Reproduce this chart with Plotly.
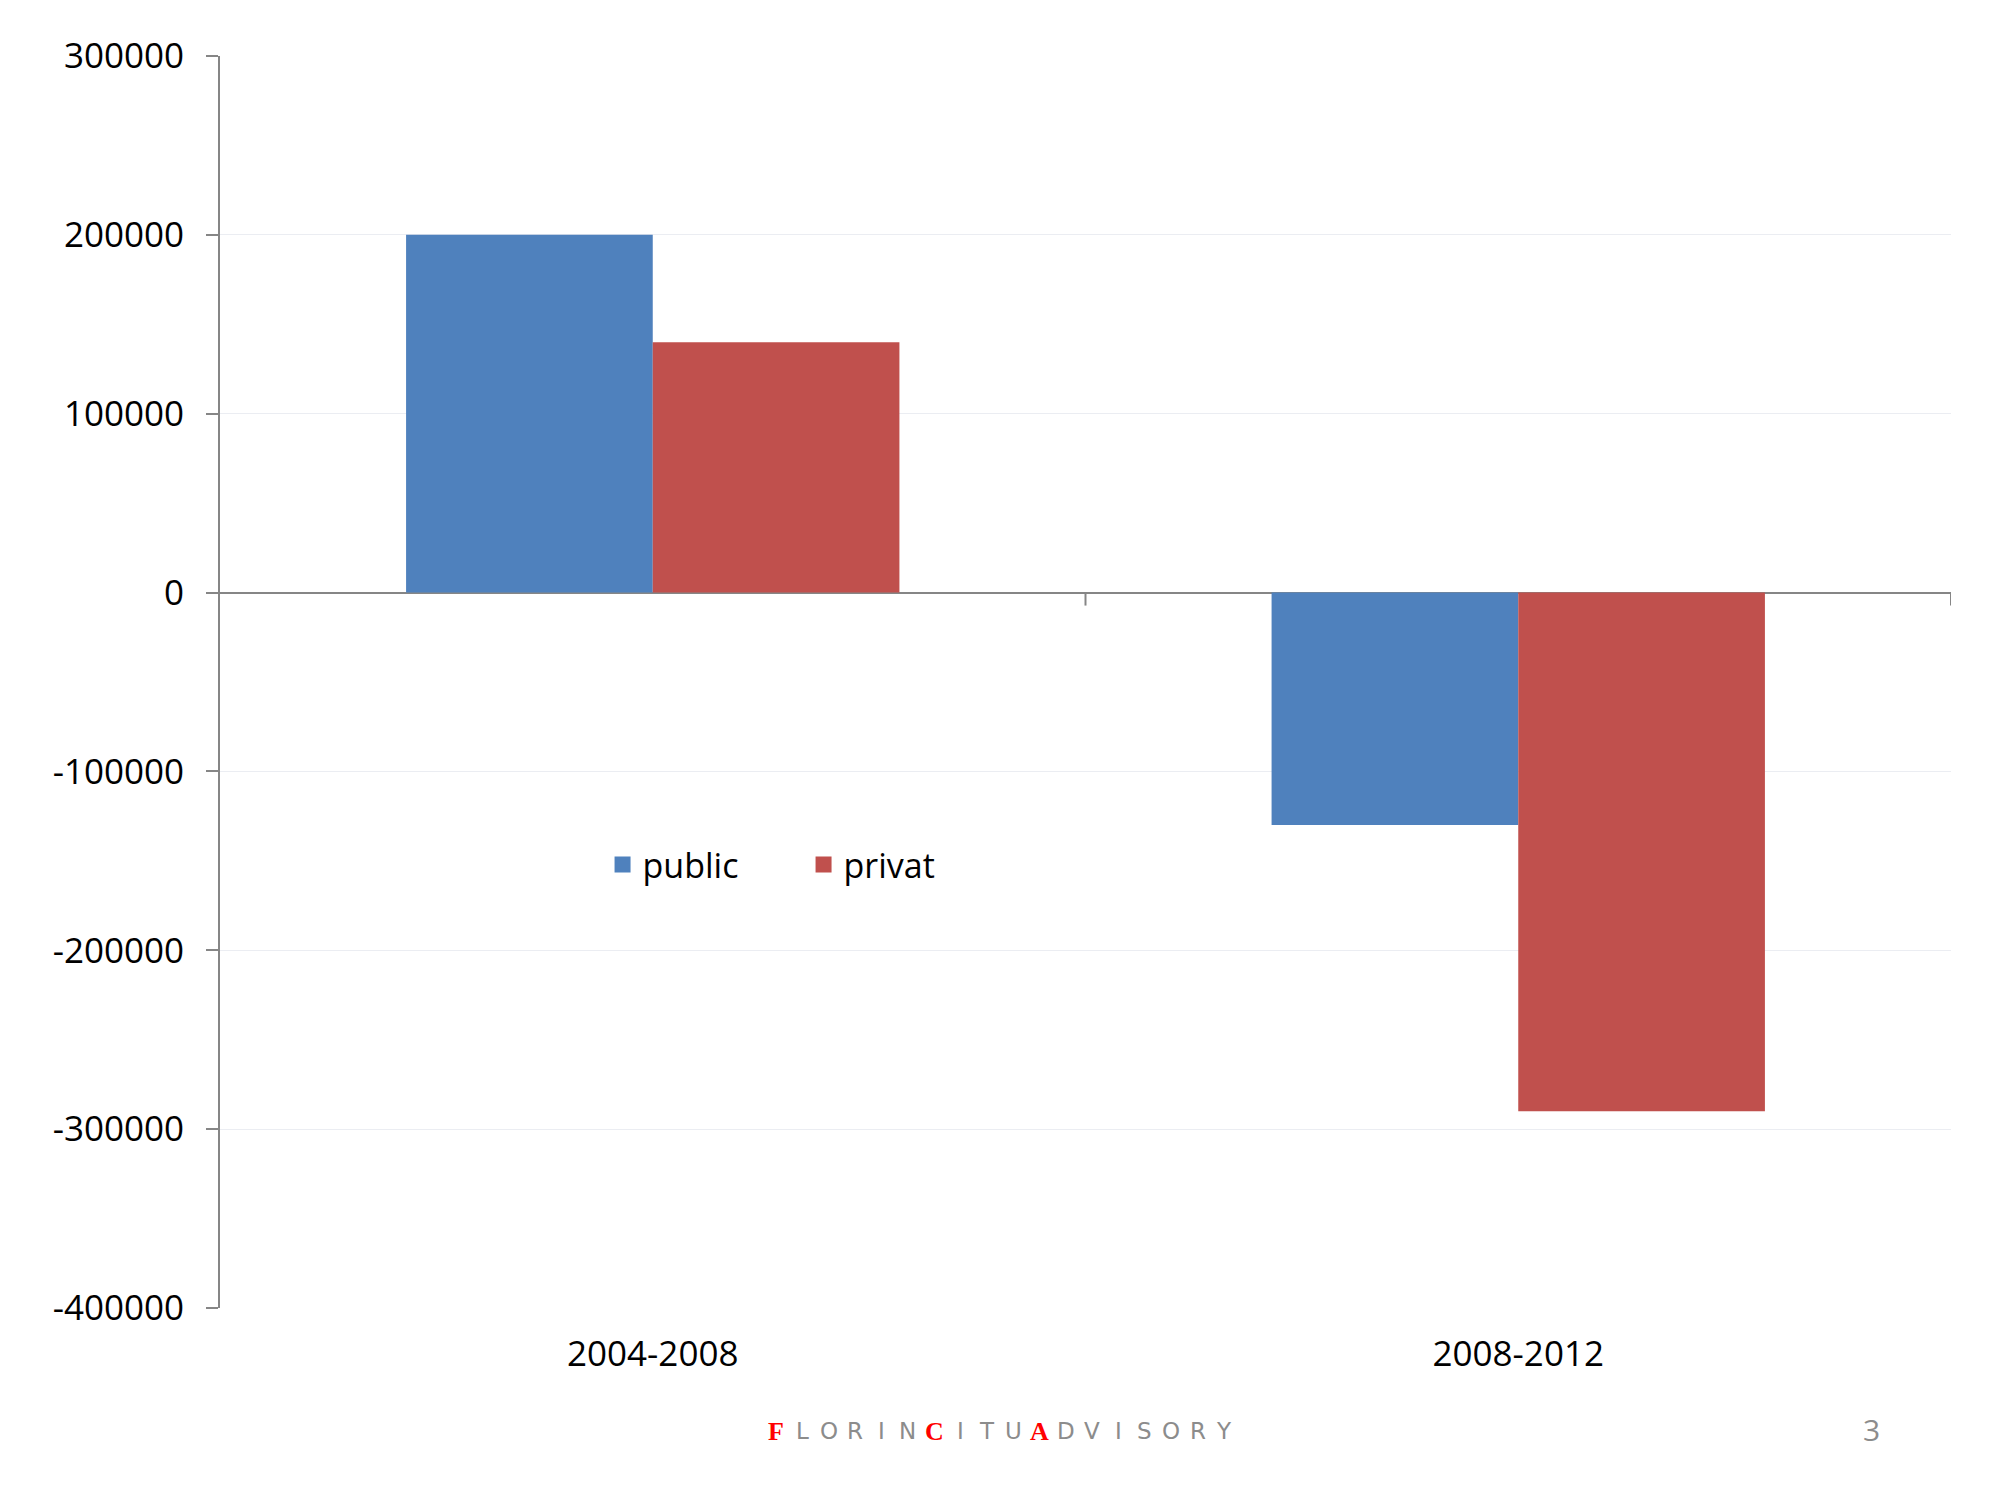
import plotly.graph_objects as go

categories = ["2004-2008", "2008-2012"]
series_names = ["public", "privat"]
public_values = [200000, -130000]
privat_values = [140000, -290000]
y_tick_values = [300000, 200000, 100000, 0, -100000, -200000, -300000, -400000]
y_tick_labels = ["300000", "200000", "100000", "0", "-100000", "-200000", "-300000", "-400000"]
footer_letters = list("FLORINCITUADVISORY")
footer_red = [0, 6, 10]
page_number = "3"

BLUE = "#4F81BD"
RED = "#C0504D"
AXIS = "#868686"
GRID = "#EBEDF2"
FONT = "Open Sans"

# plot area in figure pixels
L, R, T, B = 212, 1943, 48, 1300
W, H = R - L, B - T

fig = go.Figure()
for name, vals, col in [(series_names[0], public_values, BLUE),
                        (series_names[1], privat_values, RED)]:
    fig.add_trace(go.Bar(name=name, x=categories, y=vals, legendgroup=name,
                         showlegend=False,
                         marker=dict(color=col, line=dict(width=0))))
# legend entries (square swatches)
for name, col in [(series_names[0], BLUE), (series_names[1], RED)]:
    fig.add_trace(go.Scatter(name=name, x=[None], y=[None], mode="markers",
                             legendgroup=name,
                             marker=dict(symbol="square", size=23, color=col,
                                         line=dict(width=0))))

# x-axis tick marks sitting on the zero line (between and after categories)
for xv in [0.5, 1.5]:
    fig.add_shape(type="line", xref="x", yref="y", x0=xv, x1=xv,
                  ysizemode="pixel", yanchor=0, y0=0, y1=-13,
                  line=dict(color=AXIS, width=2))

# footer
n = len(footer_letters)
x_start, x_end = 768, 1216
for i, ch in enumerate(footer_letters):
    xp = x_start + (x_end - x_start) * i / (n - 1)
    red = i in footer_red
    fig.add_annotation(
        text=ch, xref="paper", yref="paper",
        x=(xp - L) / W, y=(B - 1423) / H,
        xanchor="center", yanchor="middle", showarrow=False,
        font=dict(family="Liberation Serif" if red else "DejaVu Sans",
                  size=26 if red else 23,
                  color="#FF0000" if red else "#8C8C8C",
                  weight="bold" if red else "normal"),
    )
fig.add_annotation(text=page_number, xref="paper", yref="paper",
                   x=(1863 - L) / W, y=(B - 1421) / H,
                   xanchor="center", yanchor="middle", showarrow=False,
                   font=dict(family=FONT, size=30, color="#8C8C8C"))

fig.update_layout(
    width=2000, height=1500,
    margin=dict(l=L, r=2000 - R, t=T, b=1500 - B),
    paper_bgcolor="white", plot_bgcolor="white",
    barmode="group", bargap=0.43, bargroupgap=0,
    font=dict(family=FONT, size=35, color="#000000"),
    showlegend=True,
    legend=dict(orientation="h", x=0.221, y=0.354, xanchor="left", yanchor="middle",
                font=dict(family=FONT, size=34, color="#000000"),
                bgcolor="rgba(0,0,0,0)", entrywidth=156, entrywidthmode="pixels",
                itemclick=False, itemdoubleclick=False),
    xaxis=dict(range=[-0.5, 1.5], showline=False, showgrid=False, ticks="",
               zeroline=False, tickfont=dict(size=35, color="#000000"),
               ticklabelstandoff=22),
    yaxis=dict(range=[-400000, 300000], tickvals=y_tick_values, ticktext=y_tick_labels,
               showline=True, linecolor=AXIS, linewidth=2,
               ticks="outside", ticklen=12, tickwidth=2, tickcolor=AXIS,
               showgrid=True, gridcolor=GRID, gridwidth=1,
               zeroline=True, zerolinecolor=AXIS, zerolinewidth=2,
               tickfont=dict(size=35, color="#000000"), ticklabelstandoff=15),
)

fig.write_html("out.html")
